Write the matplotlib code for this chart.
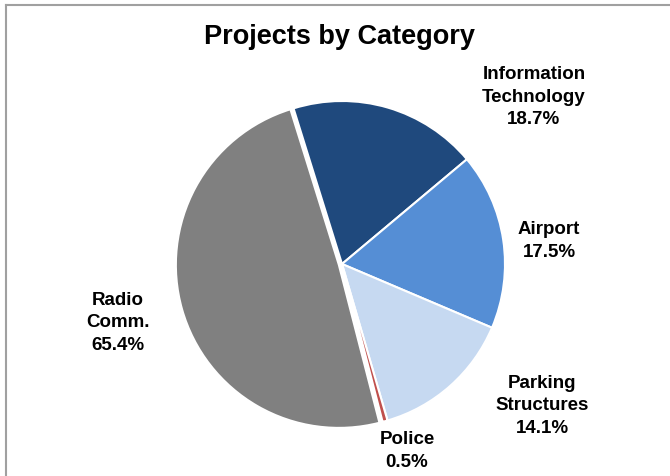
import matplotlib
matplotlib.use("Agg")
import matplotlib.pyplot as plt
from matplotlib.lines import Line2D

categories = ["Information\nTechnology", "Airport", "Parking\nStructures", "Police", "Radio\nComm."]
shares = [18.7, 17.5, 14.1, 0.5, 49.2]          # slice sizes as drawn
label_pcts = ["18.7%", "17.5%", "14.1%", "0.5%", "65.4%"]  # percentages printed on chart
colors = ["#1F497D", "#558ED5", "#C6D9F1", "#C0504D", "#808080"]

plt.rcParams['font.family'] = ['Liberation Sans', 'DejaVu Sans']

W, H = 670, 477
fig = plt.figure(figsize=(W / 100, H / 100), dpi=100)
ax = fig.add_axes([0, 0, 1, 1])
ax.set_xlim(0, W)
ax.set_ylim(H, 0)
ax.axis('off')

# pie in its own axes positioned in pixels
cx, cy, r = 342, 265, 163
pad = 10
pax = fig.add_axes([(cx - r - pad) / W, (H - cy - r - pad) / H, (2 * r + 2 * pad) / W, (2 * r + 2 * pad) / H])
pax.pie(shares, colors=colors, startangle=107.3, counterclock=False,
        explode=[0, 0, 0, 0.0, 0.02], radius=1.0,
        wedgeprops=dict(edgecolor='white', linewidth=1.5))
lim = 1.0 + pad / r
pax.set_xlim(-lim, lim)
pax.set_ylim(-lim, lim)
pax.set_aspect('auto')
pax.axis('off')

# labels
label_pos = [(534, 97), (549, 241), (542, 406), (407, 451), (118, 323)]
for cat, pct, (lx, ly) in zip(categories, label_pcts, label_pos):
    ax.text(lx, ly, f"{cat}\n{pct}", ha='center', va='center', fontsize=13.5,
            fontweight='bold', linespacing=1.42, color='black')

ax.text(340, 37, "Projects by Category", ha='center', va='center',
        fontsize=19.5, fontweight='bold', color='black')

# chart border (top and left visible)
ax.add_line(Line2D([5.5, W], [5.5, 5.5], color='#A0A0A0', linewidth=1.5))
ax.add_line(Line2D([5.5, 5.5], [5.5, H], color='#A0A0A0', linewidth=1.5))

fig.savefig("out.png", dpi=100)
